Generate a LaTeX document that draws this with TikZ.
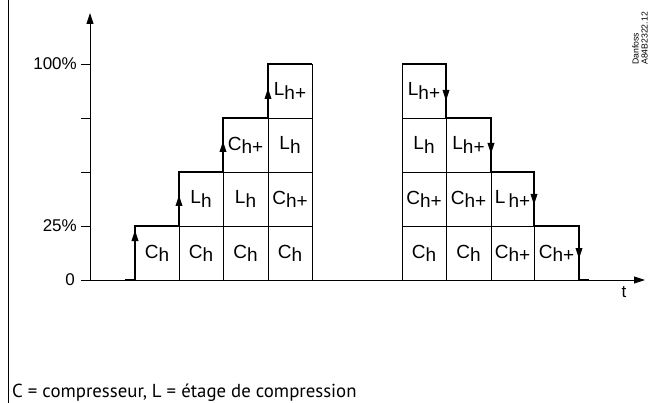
\documentclass[tikz,border=0pt]{standalone}
\usepackage{fontspec}
\setmainfont{Liberation Sans}
\newfontfamily\capfont{PT Sans}
\usetikzlibrary{arrows.meta}
\newcommand{\lb}[2]{#1\raisebox{-0.17em}{#2}}
\begin{document}
\begin{tikzpicture}[x=1pt,y=-1pt,
  thinln/.style={line width=0.9pt},
  boldln/.style={line width=2.2pt},
  stepmark/.style={-{Triangle[length=11pt,width=6.5pt]}, line width=2pt},
  cell/.style={font=\fontsize{19}{19}\selectfont, inner sep=0pt},
  axlab/.style={font=\fontsize{17}{17}\selectfont, anchor=east, inner sep=0pt},
  axarrow/.style={thinln,-{Triangle[length=11pt,width=7pt]}}]
\useasboundingbox (0,0) rectangle (660,403);
% frame line
\draw[thinln] (8.5,0) -- (8.5,403);
% axes
\coordinate (O) at (90,280);
\coordinate (ytop) at (90,13);
\coordinate (xstart) at (81,280);
\coordinate (xend) at (645,280);
\draw[axarrow] (O) -- (ytop);
\draw[axarrow] (xstart) -- (xend);
\foreach \yy in {64,118,172,226} \draw[thinln] (81,\yy) -- (90,\yy);
\node[axlab] (l100) at (77,64) {100\%};
\node[axlab] (l25) at (77,226) {25\%};
\node[axlab] (l0) at (75,280) {0};
\node[font=\fontsize{17}{17}\selectfont, inner sep=0pt] (t) at (624,292) {t};
% left grid
\draw[thinln] (135,226) rectangle (179,280);
\draw[thinln] (179,172) rectangle (223,280) (179,226) -- (223,226);
\draw[thinln] (223,118) rectangle (268,280) (223,226) -- (268,226) (223,172) -- (268,172);
\draw[thinln] (268,64) rectangle (312,280) (268,226) -- (312,226) (268,172) -- (312,172) (268,118) -- (312,118);
% left bold step line
\draw[boldln] (125,280) -- (135,280) -- (135,226) -- (179,226) -- (179,172) -- (223,172) -- (223,118) -- (268,118) -- (268,64) -- (312,64);
\draw[stepmark] (135,245) -- (135,230);
\draw[stepmark] (179,210) -- (179,195);
\draw[stepmark] (223,156) -- (223,141);
\draw[stepmark] (268,103) -- (268,88);
% left labels
\node[cell] (a1) at (157,253) {\lb{C}{h}};
\node[cell] (b1) at (201,253) {\lb{C}{h}};
\node[cell] (b2) at (201,199) {\lb{L}{h}};
\node[cell] (c1) at (245.5,253) {\lb{C}{h}};
\node[cell] (c2) at (245.5,199) {\lb{L}{h}};
\node[cell] (c3) at (245.5,145) {\lb{C}{h+}};
\node[cell] (d1) at (290,253) {\lb{C}{h}};
\node[cell] (d2) at (290,199) {\lb{C}{h+}};
\node[cell] (d3) at (290,145) {\lb{L}{h}};
\node[cell] (d4) at (290,91) {\lb{L}{h+}};
% right grid
\draw[thinln] (402,64) rectangle (446,280) (402,226) -- (446,226) (402,172) -- (446,172) (402,118) -- (446,118);
\draw[thinln] (446,118) rectangle (491,280) (446,226) -- (491,226) (446,172) -- (491,172);
\draw[thinln] (491,172) rectangle (534,280) (491,226) -- (534,226);
\draw[thinln] (534,226) rectangle (579,280);
% right bold step line
\draw[boldln] (402,64) -- (446,64) -- (446,118) -- (491,118) -- (491,172) -- (534,172) -- (534,226) -- (579,226) -- (579,280) -- (589,280);
\draw[stepmark] (446,86) -- (446,101);
\draw[stepmark] (491,139) -- (491,154);
\draw[stepmark] (534,190) -- (534,205);
\draw[stepmark] (579,244) -- (579,259);
% right labels
\node[cell] (e1) at (424,253) {\lb{C}{h}};
\node[cell] (e2) at (424,199) {\lb{C}{h+}};
\node[cell] (e3) at (424,145) {\lb{L}{h}};
\node[cell] (e4) at (424,91) {\lb{L}{h+}};
\node[cell] (f1) at (468.5,253) {\lb{C}{h}};
\node[cell] (f2) at (468.5,199) {\lb{C}{h+}};
\node[cell] (f3) at (468.5,145) {\lb{L}{h+}};
\node[cell] (g1) at (512.5,253) {\lb{C}{h+}};
\node[cell] (g2) at (512.5,199) {\lb{L}{\,h+}};
\node[cell] (h1) at (556.5,253) {\lb{C}{h+}};
% reference code
\node[rotate=90, anchor=south west, inner sep=0pt, align=left,
      font=\fontsize{8.7}{9}\selectfont] (ref) at (648,65) {Danfoss\\A84B2322.12};
% caption
\node[anchor=base west, inner sep=0pt, font=\capfont\fontsize{18.8}{19}\selectfont] (cap) at (12,397) {C = compresseur, L = étage de compression};
\end{tikzpicture}
\end{document}
